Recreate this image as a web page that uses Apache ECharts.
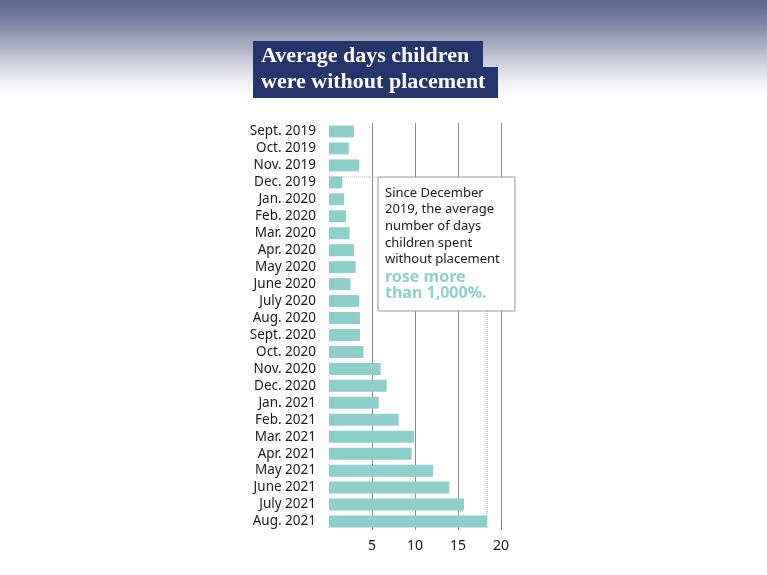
<!DOCTYPE html>
<html>
<head><meta charset="utf-8"></head>
<script type="text/javascript" src="https://cdn.jsdelivr.net/npm/echarts@6/dist/echarts.min.js"></script>
<body style="margin:0;background:#fff;">
    <div id="main" style="width: 767px;height:575px;"></div>
</body>
<script type="text/javascript">
// months, oldest first
var months=['Sept. 2019','Oct. 2019','Nov. 2019','Dec. 2019','Jan. 2020','Feb. 2020','Mar. 2020',
    'Apr. 2020','May 2020','June 2020','July 2020','Aug. 2020','Sept. 2020','Oct. 2020',
    'Nov. 2020','Dec. 2020','Jan. 2021','Feb. 2021','Mar. 2021','Apr. 2021','May 2021',
    'June 2021','July 2021','Aug. 2021']
// average days without placement
var days=[2.9,2.3,3.5,1.55,1.75,2.0,2.4,2.9,3.1,2.5,3.5,3.6,3.6,4.0,
    6.0,6.7,5.8,8.1,9.9,9.6,12.1,14.0,15.7,18.4]
var ticks=[0,5,10,15,20]
var titleLines=['Average days children','were without placement']
var noteLines=['Since December','2019, the average','number of days','children spent','without placement']
var noteBold=['rose more','than 1,000%.']

var teal='#8ecfcc'
var myChart = echarts.init(document.getElementById('main'));

var option={
    backgroundColor:{
        type:'linear',x:0,y:0,x2:0,y2:1,
        colorStops:[{offset:0,color:'#59628f'},{offset:0.05,color:'#878dab'},
            {offset:0.1,color:'#c4c6d5'},{offset:0.145,color:'#f1f1f5'},{offset:0.17,color:'#ffffff'},{offset:1,color:'#ffffff'}]
    },
    animation:false,
    grid:{left:329,top:123,width:172,height:407},
    xAxis:{
        type:'value',min:ticks[0],max:ticks[ticks.length-1],interval:5,
        axisLine:{show:false},axisTick:{show:false},
        splitLine:{show:true,lineStyle:{color:['rgba(0,0,0,0)','#8a8a8a','#8a8a8a','#8a8a8a','#8a8a8a'],width:1}},
        axisLabel:{color:'#1a1a1a',fontSize:14,fontFamily:'Noto Sans',margin:9,
            formatter:function(v){return v==0?'':v}}
    },
    yAxis:{
        type:'category',data:months,inverse:true,
        axisLine:{show:false},axisTick:{show:false},
        axisLabel:{color:'#1a1a1a',fontSize:13.5,fontFamily:'Noto Sans',margin:13,interval:0}
    },
    series:[{
        type:'bar',data:days,barWidth:12,
        itemStyle:{color:teal}
    }]
}
myChart.setOption(option)

//标注框和虚线
var last=days.length-1
var pEnd=myChart.convertToPixel({gridIndex:0},[days[last],last])
var pDec=myChart.convertToPixel({gridIndex:0},[days[3],3])
var box={x:378,y:177,w:137,h:134}
var g=[]
// title boxes
g.push({type:'rect',shape:{x:253,y:41,width:230,height:28},style:{fill:'#25346a'}})
g.push({type:'rect',shape:{x:253,y:67,width:245,height:31},style:{fill:'#25346a'}})
g.push({type:'text',x:261,y:56,style:{text:titleLines[0],fill:'#fff',font:'bold 22px "Liberation Serif"',verticalAlign:'middle'}})
g.push({type:'text',x:261,y:82,style:{text:titleLines[1],fill:'#fff',font:'bold 22px "Liberation Serif"',verticalAlign:'middle'}})
// dotted leaders
g.push({type:'line',shape:{x1:pDec[0],y1:box.y,x2:box.x,y2:box.y},style:{stroke:'#aaa',lineWidth:1,lineDash:[1,1]}})
g.push({type:'line',shape:{x1:pEnd[0],y1:box.y+box.h,x2:pEnd[0],y2:pEnd[1]-6},style:{stroke:'#aaa',lineWidth:1,lineDash:[1,1]}})
// note box
g.push({type:'rect',shape:{x:box.x,y:box.y,width:box.w,height:box.h},style:{fill:'#fff',stroke:'#999',lineWidth:1}})
for(var i=0;i<noteLines.length;i++){
    g.push({type:'text',x:385,y:193+i*16.6,style:{text:noteLines[i],fill:'#1a1a1a',font:'13px "Noto Sans"',verticalAlign:'middle'}})
}
for(var j=0;j<noteBold.length;j++){
    g.push({type:'text',x:385,y:194+(noteLines.length+j)*16.6,style:{text:noteBold[j],fill:teal,font:'bold 16px "Noto Sans"',verticalAlign:'middle'}})
}
myChart.setOption({graphic:g})
</script>
</html>
